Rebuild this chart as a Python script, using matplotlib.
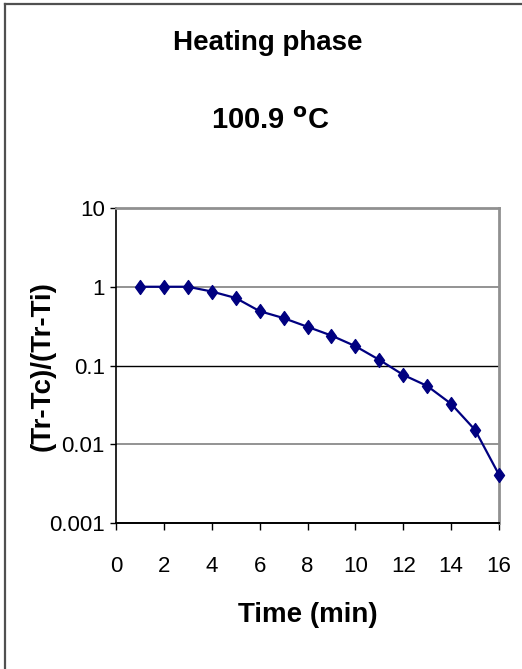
import matplotlib
matplotlib.use("Agg")
import matplotlib.pyplot as plt
from matplotlib.ticker import NullLocator
from matplotlib.lines import Line2D
from matplotlib.path import Path

plt.rcParams['font.family'] = ['Liberation Sans', 'DejaVu Sans']

# ---- data ----
time_min = [1, 2, 3, 4, 5, 6, 7, 8, 9, 10, 11, 12, 13, 14, 15, 16]
ratio = [1.0, 1.0, 1.0, 0.87, 0.72, 0.49, 0.40, 0.31, 0.24, 0.176,
         0.118, 0.076, 0.055, 0.0326, 0.0152, 0.0041]
x_ticks = [0, 2, 4, 6, 8, 10, 12, 14, 16]
y_ticks = [0.001, 0.01, 0.1, 1, 10]
y_tick_labels = ['0.001', '0.01', '0.1', '1', '10']
title1 = "Heating phase"
title2 = r"100.9 $^{\mathbf{o}}$C"
x_label = "Time (min)"
y_label = "(Tr-Tc)/(Tr-Ti)"

W, H = 522, 669
fig = plt.figure(figsize=(W / 100, H / 100), dpi=100)
fig.patch.set_facecolor('white')

# outer chart-area frame (left and top edges visible)
fig.add_artist(Line2D([5 / W, 5 / W], [0, 1 - 4 / H], transform=fig.transFigure,
                      color='#505050', lw=1.6))
fig.add_artist(Line2D([5 / W, 1], [1 - 4 / H, 1 - 4 / H], transform=fig.transFigure,
                      color='#505050', lw=1.6))

left, right, top, bottom = 116 / W, 499 / W, 1 - 208 / H, 1 - 523 / H
ax = fig.add_axes([left, bottom, right - left, top - bottom])

diamond = Path([(0, 1), (0.72, 0), (0, -1), (-0.72, 0), (0, 1)],
               [Path.MOVETO, Path.LINETO, Path.LINETO, Path.LINETO, Path.CLOSEPOLY])

ax.plot(time_min, ratio, color='#000080', lw=1.6, marker=diamond,
        markersize=10, markerfacecolor='#000080', markeredgecolor='#000080',
        zorder=5, clip_on=False)

ax.set_yscale('log')
ax.set_xlim(0, 16)
ax.set_ylim(0.001, 10)
ax.set_xticks(x_ticks)
ax.set_xticklabels([str(t) for t in x_ticks])
ax.set_yticks(y_ticks)
ax.set_yticklabels(y_tick_labels)
ax.yaxis.set_minor_locator(NullLocator())
ax.xaxis.set_minor_locator(NullLocator())

ax.tick_params(axis='y', direction='out', length=4.5, width=1, color='black',
               labelsize=16, pad=3.5)
ax.tick_params(axis='x', direction='out', length=5, width=1, color='black',
               labelsize=16, pad=19)

ax.yaxis.grid(True, color='#808080', lw=1.2)
for tick_val, gl in zip(y_ticks, ax.get_ygridlines()):
    if tick_val == 0.1:
        gl.set_color('black')
        gl.set_linewidth(1.0)
ax.set_axisbelow(True)

for side in ['top', 'right']:
    ax.spines[side].set_color('#909090')
    ax.spines[side].set_linewidth(2)
ax.spines['left'].set_color('black')
ax.spines['left'].set_linewidth(1.2)
ax.spines['bottom'].set_color('black')
ax.spines['bottom'].set_linewidth(1.4)

ax.set_xlabel(x_label, fontsize=20, fontweight='bold')
ax.xaxis.set_label_coords((308 - 116) / 383, (523 - 615) / 315)
ax.xaxis.label.set_va('center')
ax.set_ylabel(y_label, fontsize=20, fontweight='bold')
ax.yaxis.set_label_coords((43 - 116) / 383, (523 - 366) / 315)
ax.yaxis.label.set_va('center')

fig.text(268 / W, 1 - 43 / H, title1, fontsize=20, fontweight='bold',
         ha='center', va='center')
fig.text(270 / W, 1 - 121 / H, title2, fontsize=21, fontweight='bold',
         ha='center', va='center')

fig.savefig('out.png', dpi=100)
